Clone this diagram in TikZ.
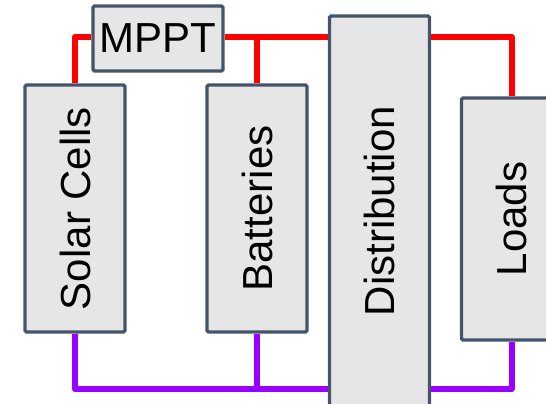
\documentclass[tikz,border=0pt]{standalone}
\usepackage{fontspec}
\usepackage{graphicx}
\setmainfont{Liberation Sans}
\usepackage{tikz}
\usetikzlibrary{backgrounds}

\definecolor{boxline}{HTML}{44546A}
\definecolor{boxfill}{HTML}{E7E6E6}
\definecolor{wirered}{HTML}{FF0000}
\definecolor{wirepurple}{HTML}{9900FF}

\begin{document}
\begin{tikzpicture}[x=1pt, y=-1pt,
  block/.style={draw=boxline, fill=boxfill, line width=3.2pt, rounded corners=1.5pt,
    inner sep=0pt, minimum width=100pt, font=\fontsize{42}{46}\selectfont},
  redwire/.style={draw=wirered, line width=6pt, line join=round},
  purplewire/.style={draw=wirepurple, line width=6pt, line join=round}]

  \useasboundingbox (0,0) rectangle (546,404);
  \clip (0,0) rectangle (546,404);

  \node[block, minimum height=247pt] (solar) at (75,208.5)   {\rotatebox{90}{Solar Cells}};
  \node[block, minimum width=130pt, minimum height=65pt] (mppt) at (158,38.5) {MPPT};
  \node[block, minimum height=247pt] (batt)  at (257,208.5)  {\rotatebox{90}{Batteries}};
  \node[block, minimum height=390pt] (dist)  at (379.5,211)  {\rotatebox{90}{Distribution}};
  \node[block, minimum height=242pt] (loads) at (511.5,219)  {\rotatebox{90}{Loads}};

  % bus heights
  \coordinate (rbus) at (0,37);
  \coordinate (pbus) at (0,389);

  \begin{scope}[on background layer]
    % positive side
    \draw[redwire] (solar.north) |- (mppt.west |- rbus);
    \draw[redwire] (mppt.east |- rbus) -- (dist.west |- rbus);
    \draw[redwire] (batt.north) -- (batt.north |- rbus);
    \draw[redwire] (dist.east |- rbus) -| (loads.north);
    % return side
    \draw[purplewire] (solar.south) |- (dist.west |- pbus);
    \draw[purplewire] (batt.south) -- (batt.south |- pbus);
    \draw[purplewire] (dist.east |- pbus) -| (loads.south);
  \end{scope}

\end{tikzpicture}
\end{document}
